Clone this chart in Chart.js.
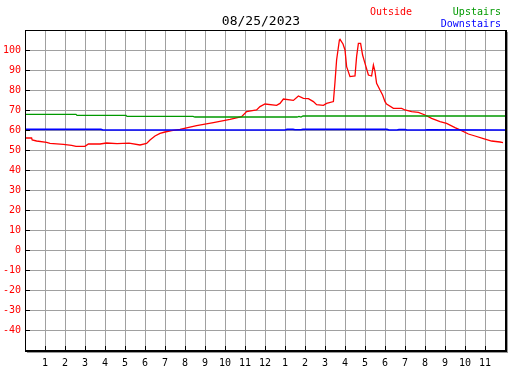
<!DOCTYPE html>
<html>
<head>
<meta charset="utf-8">
<title>08/25/2023</title>
<script src="https://cdn.jsdelivr.net/npm/chart.js@4"></script>
<style>
  body { margin: 0; background: #fff; }
  canvas { display: block; }
</style>
</head>
<body>
<canvas id="tempChart" width="527" height="370"></canvas>
<script>
// chart data (hours since midnight, degrees)
const chartTitle = '08/25/2023';
const hourLabels = ['', '1', '2', '3', '4', '5', '6', '7', '8', '9', '10', '11', '12',
  '1', '2', '3', '4', '5', '6', '7', '8', '9', '10', '11', ''];

const outsideTimes = [0, 0.33, 0.36, 0.58, 1.08, 1.25, 1.92, 2.33, 2.55, 3.0, 3.17, 3.75, 4.08,
  4.6, 5.2, 5.75, 6.08, 6.25, 6.5, 6.75, 7.0, 7.33, 7.75, 8.58, 9.42, 10.25, 10.83, 11.08,
  11.58, 11.75, 12.0, 12.58, 12.75, 12.92, 13.42, 13.67, 13.92, 14.17, 14.42, 14.58, 14.92,
  15.08, 15.42, 15.5, 15.58, 15.72, 15.75, 15.9, 16.0, 16.08, 16.25, 16.5, 16.58, 16.67,
  16.78, 16.88, 17.0, 17.17, 17.33, 17.42, 17.5, 17.58, 17.75, 17.88, 18.0, 18.08, 18.42,
  18.83, 19.0, 19.33, 19.67, 20.0, 20.33, 20.75, 21.08, 21.5, 21.83, 22.17, 22.5, 22.92,
  23.33, 23.75, 23.9];
const outsideTemps = [56, 56, 55, 54.5, 53.8, 53.3, 52.8, 52.3, 51.8, 51.8, 53, 53, 53.5,
  53.2, 53.4, 52.5, 53.3, 55, 57, 58.3, 59, 59.7, 60.3, 62.2, 63.7, 65.3, 66.7, 69.2,
  70, 71.7, 73, 72.3, 73.3, 75.5, 74.8, 77, 75.8, 75.7, 74.2, 72.7, 72.3,
  73.3, 74.2, 84, 95, 105, 105.3, 103, 100, 91.7, 86.7, 87, 96.7, 103.3,
  103.3, 97.5, 93.3, 87.5, 87, 92.5, 89.2, 83.3, 80, 77.5, 74.2, 73, 70.8,
  70.8, 70, 69.2, 68.8, 67.5, 65.8, 64.2, 63.3, 61.2, 59.7, 58, 57, 55.7,
  54.5, 54, 53.7];

const upstairsTimes = [0, 2.55, 2.6, 5.05, 5.1, 8.4, 8.5, 13.6, 13.7, 13.8, 13.9, 24];
const upstairsTemps = [67.8, 67.8, 67.3, 67.3, 66.8, 66.8, 66.5, 66.5, 66.8, 66.5, 67, 67];

const downstairsTimes = [0, 3.8, 3.9, 13.0, 13.1, 13.4, 13.5, 13.8, 13.9, 18.1, 18.2, 18.6,
  18.7, 19.0, 19.1, 20.0, 20.1, 24];
const downstairsTemps = [60.3, 60.3, 60, 60, 60.3, 60.3, 60.1, 60.1, 60.3, 60.3, 60, 60,
  60.2, 60.2, 60, 60, 60.1, 60];

// turn time + value arrays into {x, y} points
function toPoints(times, temps) {
  return times.map((t, i) => ({ x: t, y: temps[i] }));
}

// frame, inner tick marks, title and legend
const framePlugin = {
  id: 'frame',
  afterDraw(chart) {
    const ctx = chart.ctx;
    const a = chart.chartArea;
    const xs = chart.scales.x;
    const ys = chart.scales.y;
    ctx.save();

    // shadow
    ctx.fillStyle = '#999999';
    ctx.fillRect(a.right + 2, a.top + 2, 1, a.bottom - a.top + 1);
    ctx.fillRect(a.left + 2, a.bottom + 2, a.right - a.left + 1, 1);

    // black border
    ctx.fillStyle = '#000000';
    ctx.fillRect(a.left, a.top, 1, a.bottom - a.top + 2);
    ctx.fillRect(a.left, a.top, a.right - a.left + 2, 1);
    ctx.fillRect(a.right, a.top, 2, a.bottom - a.top + 2);
    ctx.fillRect(a.left, a.bottom, a.right - a.left + 2, 2);

    // small ticks inside the plot
    for (let v = -40; v <= 100; v += 10) {
      const py = Math.round(ys.getPixelForValue(v));
      ctx.fillRect(a.left + 1, py, 4, 1);
    }
    for (let h = 1; h < 24; h++) {
      const px = Math.round(xs.getPixelForValue(h));
      ctx.fillRect(px, a.bottom - 4, 1, 4);
    }

    // title
    ctx.font = '13px "DejaVu Sans Mono"';
    ctx.textBaseline = 'alphabetic';
    ctx.textAlign = 'center';
    ctx.fillStyle = '#000000';
    ctx.fillText(chartTitle, 261, 25);

    // legend
    ctx.font = '10px "DejaVu Sans Mono"';
    ctx.textAlign = 'left';
    ctx.fillStyle = '#ff0000';
    ctx.fillText('Outside', 370, 15);
    ctx.textAlign = 'right';
    ctx.fillStyle = '#009900';
    ctx.fillText('Upstairs', 501, 15);
    ctx.fillStyle = '#0000ff';
    ctx.fillText('Downstairs', 501, 27);

    ctx.restore();
  }
};

const ctx = document.getElementById('tempChart');

new Chart(ctx, {
  type: 'line',
  data: {
    datasets: [
      {
        label: 'Upstairs',
        data: toPoints(upstairsTimes, upstairsTemps),
        borderColor: '#009900',
        borderWidth: 1.3
      },
      {
        label: 'Downstairs',
        data: toPoints(downstairsTimes, downstairsTemps),
        borderColor: '#0000ff',
        borderWidth: 1.6
      },
      {
        label: 'Outside',
        data: toPoints(outsideTimes, outsideTemps),
        borderColor: '#ff0000',
        borderWidth: 1.3
      }
    ]
  },
  options: {
    responsive: false,
    animation: false,
    events: [],
    elements: { point: { radius: 0 }, line: { tension: 0 } },
    layout: { padding: { top: 30, right: 22, left: 0, bottom: 0 } },
    plugins: {
      legend: { display: false },
      tooltip: { enabled: false }
    },
    scales: {
      x: {
        type: 'linear',
        min: 0,
        max: 24,
        border: { display: false },
        grid: { color: '#a0a0a0', lineWidth: 1, drawTicks: false },
        afterFit: (scale) => { scale.height = 20; },
        ticks: {
          stepSize: 1,
          padding: 7,
          autoSkip: false,
          maxRotation: 0,
          color: '#000000',
          font: { family: 'DejaVu Sans Mono', size: 10 },
          callback: (value) => hourLabels[value]
        }
      },
      y: {
        min: -50,
        max: 110,
        border: { display: false },
        grid: { color: '#a0a0a0', lineWidth: 1, drawTicks: false },
        afterFit: (scale) => { scale.width = 25; },
        ticks: {
          stepSize: 10,
          padding: 4,
          color: '#ff0000',
          font: { family: 'DejaVu Sans Mono', size: 10 },
          callback: (value) => (value <= -50 || value >= 110) ? '' : value
        }
      }
    }
  },
  plugins: [framePlugin]
});
</script>
</body>
</html>
